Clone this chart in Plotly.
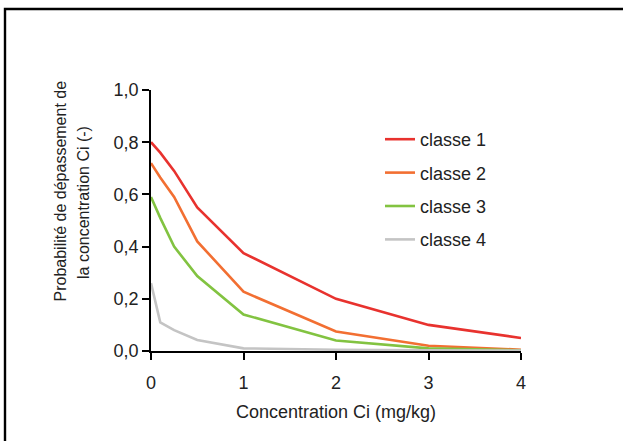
import plotly.graph_objects as go

concentration = [0, 0.1, 0.25, 0.5, 1, 2, 3, 4]
classe_1 = [0.80, 0.76, 0.69, 0.55, 0.375, 0.20, 0.10, 0.05]
classe_2 = [0.72, 0.665, 0.59, 0.42, 0.227, 0.075, 0.02, 0.005]
classe_3 = [0.59, 0.51, 0.40, 0.287, 0.14, 0.04, 0.01, 0.003]
classe_4 = [0.26, 0.11, 0.08, 0.042, 0.01, 0.005, 0.003, 0.002]
series_names = ["classe 1", "classe 2", "classe 3", "classe 4"]
series_values = [classe_1, classe_2, classe_3, classe_4]
colors = ["#E8322E", "#F26F32", "#82C341", "#C4C4C4"]
x_ticks = [0, 1, 2, 3, 4]
y_ticks = [0, 0.2, 0.4, 0.6, 0.8, 1.0]

FONT = "Liberation Sans, Arial, sans-serif"

fig = go.Figure()
for name, vals, col in zip(series_names, series_values, colors):
    fig.add_trace(go.Scatter(x=concentration, y=vals, mode="lines", name=name,
                             legendgroup=name,
                             line=dict(color=col, width=2.6)))

W, H = 623, 441
L, R, T, B = 151, 102, 90, 90
pw, ph = W - L - R, H - T - B

def px(x):
    return (x - L) / pw

def py(y):
    return (H - B - y) / ph

fig.update_layout(
    width=W, height=H,
    margin=dict(l=L, r=R, t=T, b=B),
    paper_bgcolor="white", plot_bgcolor="white",
    separators=", ",
    font=dict(family=FONT, color="#222"),
    showlegend=True,
    legend=dict(x=px(380), y=py(121), xanchor="left", yanchor="top",
                font=dict(size=18, family=FONT, color="#222"),
                bgcolor="rgba(0,0,0,0)", tracegroupgap=7,
                traceorder="grouped"),
    xaxis=dict(range=[0, 4], tickvals=x_ticks, ticks="outside", ticklen=7,
               tickwidth=1.5, tickcolor="black", showline=True, linecolor="black",
               linewidth=1.5, showgrid=False, zeroline=False,
               tickfont=dict(size=18, family=FONT, color="#222"),
               ticklabelstandoff=8,
               title=dict(text="Concentration Ci (mg/kg)", font=dict(size=18, family=FONT, color="#222"),
                          standoff=13)),
    yaxis=dict(range=[0, 1], tickvals=y_ticks, tickformat=".1f", ticks="outside", ticklen=7,
               tickwidth=1.5, tickcolor="black", showline=True, linecolor="black",
               linewidth=1.5, showgrid=False, zeroline=False,
               tickfont=dict(size=18, family=FONT, color="#222")),
    annotations=[
        dict(text="Probabilité de dépassement de", xref="paper", yref="paper",
             x=px(59.5), y=py(191), showarrow=False, textangle=-90,
             xanchor="center", yanchor="middle",
             font=dict(size=16, family=FONT, color="#222")),
        dict(text="la concentration Ci (-)", xref="paper", yref="paper",
             x=px(83), y=py(203), showarrow=False, textangle=-90,
             xanchor="center", yanchor="middle",
             font=dict(size=16, family=FONT, color="#222")),
    ],
    shapes=[
        dict(type="path", xref="paper", yref="paper",
             path=f"M {px(5)},{py(500)} L {px(5)},{py(9)} L {px(700)},{py(9)}",
             line=dict(color="black", width=2.4), layer="above"),
    ],
)

fig.write_html("out.html", config={"displayModeBar": False},
               post_script="document.documentElement.style.overflow='hidden';document.body.style.margin='0';document.body.style.overflow='hidden';")
